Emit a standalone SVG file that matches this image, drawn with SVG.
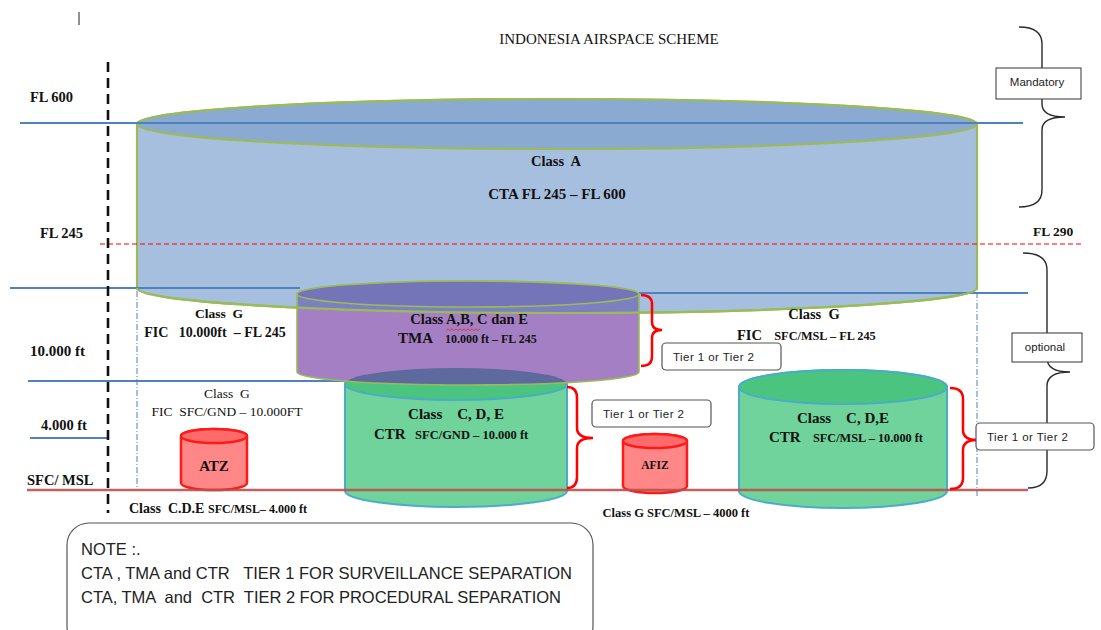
<svg xmlns="http://www.w3.org/2000/svg" width="1101" height="630" viewBox="0 0 1101 630">
  <defs>
    <style>
      text { font-family: "Liberation Serif", "Times New Roman", serif; fill: #111; white-space: pre; }
      .b { font-weight: bold; }
      .mid { text-anchor: middle; }
      .sans { font-family: "Liberation Sans", Arial, sans-serif; fill: #222; }
      .lvl { stroke: #4f81bd; stroke-width: 2; fill: none; }
      .cta-edge { stroke: #9bbb59; stroke-width: 2.2; }
      .tma-edge { stroke: #9bbb59; stroke-width: 1.6; }
      .ctr-edge { stroke: #4bacc6; stroke-width: 2; }
      .red-edge { stroke: #ff1a1a; stroke-width: 2.5; }
      .brace-red { stroke: #ff0000; stroke-width: 2.5; fill: none; }
      .brace-blk { stroke: #2a2a2a; stroke-width: 1.4; fill: none; }
      .box { fill: #fff; stroke: #333; stroke-width: 1; }
      .tier { fill: #fff; stroke: #555; stroke-width: 1.2; }
      .dashdot { stroke: #4f81bd; stroke-width: 1; stroke-dasharray: 6 2 1 2; }
    </style>
    <clipPath id="clip-cta">
      <path d="M137,124 L137,288 A420,25 0 0 0 977,288 L977,124 A420,25 0 0 0 137,124 Z"/>
    </clipPath>
    <clipPath id="clip-tma">
      <path d="M297,294 L297,372 A171,13 0 0 0 639,372 L639,294 A171,13 0 0 0 297,294 Z"/>
    </clipPath>
  </defs>

  <rect width="1101" height="630" fill="#fff"/>

  <!-- stray cursor mark -->
  <line x1="79" y1="12" x2="79" y2="25" stroke="#222" stroke-width="1"/>

  <text x="609" y="44" class="mid" font-size="15">INDONESIA AIRSPACE SCHEME</text>

  <!-- lower level lines (behind volumes) -->
  <g id="levels-back">
    <line class="lvl" x1="28" y1="381" x2="345" y2="381"/>
    <line class="lvl" x1="30" y1="438" x2="107" y2="438"/>
  </g>

  <!-- CTA volume -->
  <g id="cta">
    <path d="M137,124 L137,288 A420,25 0 0 0 977,288 L977,124 A420,25 0 0 0 137,124 Z" fill="#a7bfde" class="cta-edge"/>
    <ellipse cx="557" cy="124" rx="420" ry="25" fill="#8aaad2" class="cta-edge"/>
    <text x="556" y="166" class="b mid" font-size="14.5">Class  A</text>
    <text x="557" y="199" class="b mid" font-size="15">CTA FL 245 – FL 600</text>
  </g>

  <g id="levels-front">
    <line class="lvl" x1="20" y1="123" x2="1023" y2="123"/>
    <line class="lvl" x1="10" y1="288" x2="300" y2="288"/>
    <line class="lvl" x1="636" y1="293" x2="1028" y2="293"/>
  </g>

  <!-- CTR SFC/GND volume -->
  <g id="ctr-gnd">
    <path d="M345,384 L345,491 A111,16 0 0 0 567,491 L567,384 A111,16 0 0 0 345,384 Z" fill="#6fd39b" class="ctr-edge"/>
    <ellipse cx="456" cy="384" rx="111" ry="16" fill="#4ac47e" class="ctr-edge"/>
    <text x="456" y="419" class="b mid" font-size="15">Class    C, D, E</text>
    <text x="374" y="439" class="b" font-size="15">CTR<tspan font-size="12.5">   SFC/GND – 10.000 ft</tspan></text>
  </g>

  <!-- TMA volume -->
  <g id="tma">
    <path d="M297,294 L297,372 A171,13 0 0 0 639,372 L639,294 A171,13 0 0 0 297,294 Z" fill="#a57fc3"/>
    <path d="M297,294 L297,372 A171,13 0 0 0 639,372 L639,294 A171,13 0 0 0 297,294 Z" fill="#7c80c1" clip-path="url(#clip-cta)"/>
    <ellipse cx="456" cy="384" rx="111" ry="16" fill="#5e6a9e" clip-path="url(#clip-tma)"/>
    <path d="M297,294 L297,372 A171,13 0 0 0 639,372 L639,294 A171,13 0 0 0 297,294 Z" fill="none" class="tma-edge"/>
    <ellipse cx="468" cy="294" rx="171" ry="13" fill="#7474b9" class="tma-edge"/>
    <text x="469" y="324" class="b mid" font-size="14.5">Class A,B, C dan E</text>
    <path d="M446,330.5 l2,-1.6 l2,1.6 l2,-1.6 l2,1.6 l2,-1.6 l2,1.6 l2,-1.6 l2,1.6 l2,-1.6 l2,1.6 l2,-1.6 l2,1.6 l2,-1.6 l2,1.6 l2,-1.6 l2,1.6 l2,-1.6" fill="none" stroke="#e03030" stroke-width="0.9"/>
    <text x="398" y="343" class="b" font-size="15">TMA<tspan font-size="12">    10.000 ft – FL 245</tspan></text>
  </g>

  <!-- CTA lower rim over the TMA -->
  <path d="M137,288 A420,25 0 0 0 977,288" fill="none" class="cta-edge"/>

  <!-- CTR SFC/MSL volume -->
  <g id="ctr-msl">
    <path d="M739,387 L739,491 A104,17 0 0 0 947,491 L947,387 A104,17 0 0 0 739,387 Z" fill="#6fd39b" class="ctr-edge"/>
    <ellipse cx="843" cy="387" rx="104" ry="17" fill="#4ac47e" class="ctr-edge"/>
    <text x="843" y="423" class="b mid" font-size="15">Class    C, D,E</text>
    <text x="769" y="442" class="b" font-size="15">CTR<tspan font-size="12.3">    SFC/MSL – 10.000 ft</tspan></text>
  </g>

  <!-- ATZ -->
  <g id="atz">
    <path d="M181,436 L181,483 A33,7 0 0 0 247,483 L247,436 A33,7 0 0 0 181,436 Z" fill="#ff8787" class="red-edge"/>
    <ellipse cx="214" cy="436" rx="33" ry="7" fill="#ff6b6b" class="red-edge"/>
    <text x="214" y="471" class="b mid" font-size="15">ATZ</text>
  </g>

  <!-- AFIZ -->
  <g id="afiz">
    <path d="M623,441 L623,486 A32,7 0 0 0 687,486 L687,441 A32,7 0 0 0 623,441 Z" fill="#ff8787" class="red-edge"/>
    <ellipse cx="655" cy="441" rx="32" ry="7" fill="#ff6b6b" class="red-edge"/>
    <text x="655" y="469" class="b mid" font-size="11.5">AFIZ</text>
  </g>

  <!-- reference lines drawn over the volumes -->
  <g id="overlays">
    <line class="dashdot" x1="137" y1="291" x2="137" y2="488"/>
    <line class="dashdot" x1="977" y1="292" x2="977" y2="498"/>
    <line x1="100" y1="244" x2="1083" y2="244" stroke="#ff0000" stroke-width="1" stroke-dasharray="5 3"/>
    <line x1="27" y1="490" x2="1028" y2="490" stroke="#b9524e" stroke-width="2.6" opacity="0.9"/>
    <line x1="108" y1="62" x2="108" y2="513" stroke="#111" stroke-width="2.6" stroke-dasharray="10 6"/>
  </g>

  <!-- braces -->
  <g id="connectors">
    <path class="brace-blk" d="M1019,27 Q1042,27 1042,44 L1042,104 Q1042,117 1065,117 Q1042,117 1042,130 L1042,190 Q1042,207 1019,207"/>
    <path class="brace-blk" d="M1023,253 Q1047,253 1047,270 L1047,358 Q1047,372 1070,372 Q1047,372 1047,386 L1047,471 Q1047,488 1028,488"/>
    <path class="brace-red" d="M641,295 Q652,295 652,304 L652,322 Q652,330 662,330 Q652,330 652,338 L652,357 Q652,366 641,366"/>
    <path class="brace-red" d="M567,387 Q577,387 577,398 L577,428 Q577,438 593,438 Q577,438 577,448 L577,477 Q577,488 567,488"/>
    <path class="brace-red" d="M950,388 Q963,388 963,399 L963,430 Q963,440 977,440 Q963,440 963,450 L963,478 Q963,489 950,489"/>
  </g>

  <!-- tier / scope boxes -->
  <g id="box-mandatory">
    <rect class="box" x="996" y="68" width="85" height="31"/>
    <text class="sans" x="1037" y="86" text-anchor="middle" font-size="11.5">Mandatory</text>
  </g>
  <g id="box-optional">
    <rect class="box" x="1012" y="333" width="70" height="29"/>
    <text class="sans" x="1045" y="351" text-anchor="middle" font-size="11.5">optional</text>
  </g>
  <g id="tier-tma">
    <rect class="tier" x="662" y="343" width="119" height="27" rx="4"/>
    <text class="sans" x="673" y="361" font-size="11.5" textLength="81">Tier 1 or Tier 2</text>
  </g>
  <g id="tier-ctr-gnd">
    <rect class="tier" x="592" y="400" width="119" height="27" rx="4"/>
    <text class="sans" x="603" y="418" font-size="11.5" textLength="81">Tier 1 or Tier 2</text>
  </g>
  <g id="tier-ctr-msl">
    <rect class="tier" x="976" y="423" width="118" height="27" rx="4"/>
    <text class="sans" x="987" y="441" font-size="11.5" textLength="81">Tier 1 or Tier 2</text>
  </g>

  <!-- level labels -->
  <g id="level-labels">
    <text x="30" y="102" class="b" font-size="14.5">FL 600</text>
    <text x="40" y="238" class="b" font-size="14.5">FL 245</text>
    <text x="30" y="356" class="b" font-size="15">10.000 ft</text>
    <text x="41" y="430" class="b" font-size="14.5">4.000 ft</text>
    <text x="27" y="485" class="b" font-size="14.5">SFC/ MSL</text>
    <text x="1033" y="236" class="b" font-size="13.5">FL 290</text>
  </g>

  <!-- class G / aerodrome labels -->
  <g id="class-g-labels">
    <text x="219" y="318" class="b mid" font-size="13.5">Class  G</text>
    <text x="215" y="337" class="b mid" font-size="14">FIC   10.000ft  – FL 245</text>
    <text x="814" y="319" class="b mid" font-size="14.5">Class  G</text>
    <text x="737" y="340" class="b" font-size="14.5">FIC<tspan font-size="12.3">    SFC/MSL – FL 245</tspan></text>
    <text x="227" y="398" class="mid" font-size="13.5">Class  G</text>
    <text x="227" y="416" class="mid" font-size="13.5">FIC  SFC/GND – 10.000FT</text>
    <text x="129" y="513" class="b" font-size="14">Class  C.D.E <tspan font-size="12">SFC/MSL– 4.000 ft</tspan></text>
    <text x="676" y="517" class="b mid" font-size="12.5">Class G SFC/MSL – 4000 ft</text>
  </g>

  <!-- note -->
  <g id="note">
    <rect x="67" y="523" width="526" height="125" rx="22" fill="#fff" stroke="#555" stroke-width="1.2"/>
    <text class="sans" x="81" y="555" font-size="16.5">NOTE :.</text>
    <text class="sans" x="81" y="579" font-size="16.5" textLength="491">CTA , TMA and CTR   TIER 1 FOR SURVEILLANCE SEPARATION</text>
    <text class="sans" x="81" y="603" font-size="16.5" textLength="480">CTA, TMA  and  CTR  TIER 2 FOR PROCEDURAL SEPARATION</text>
  </g>
</svg>
